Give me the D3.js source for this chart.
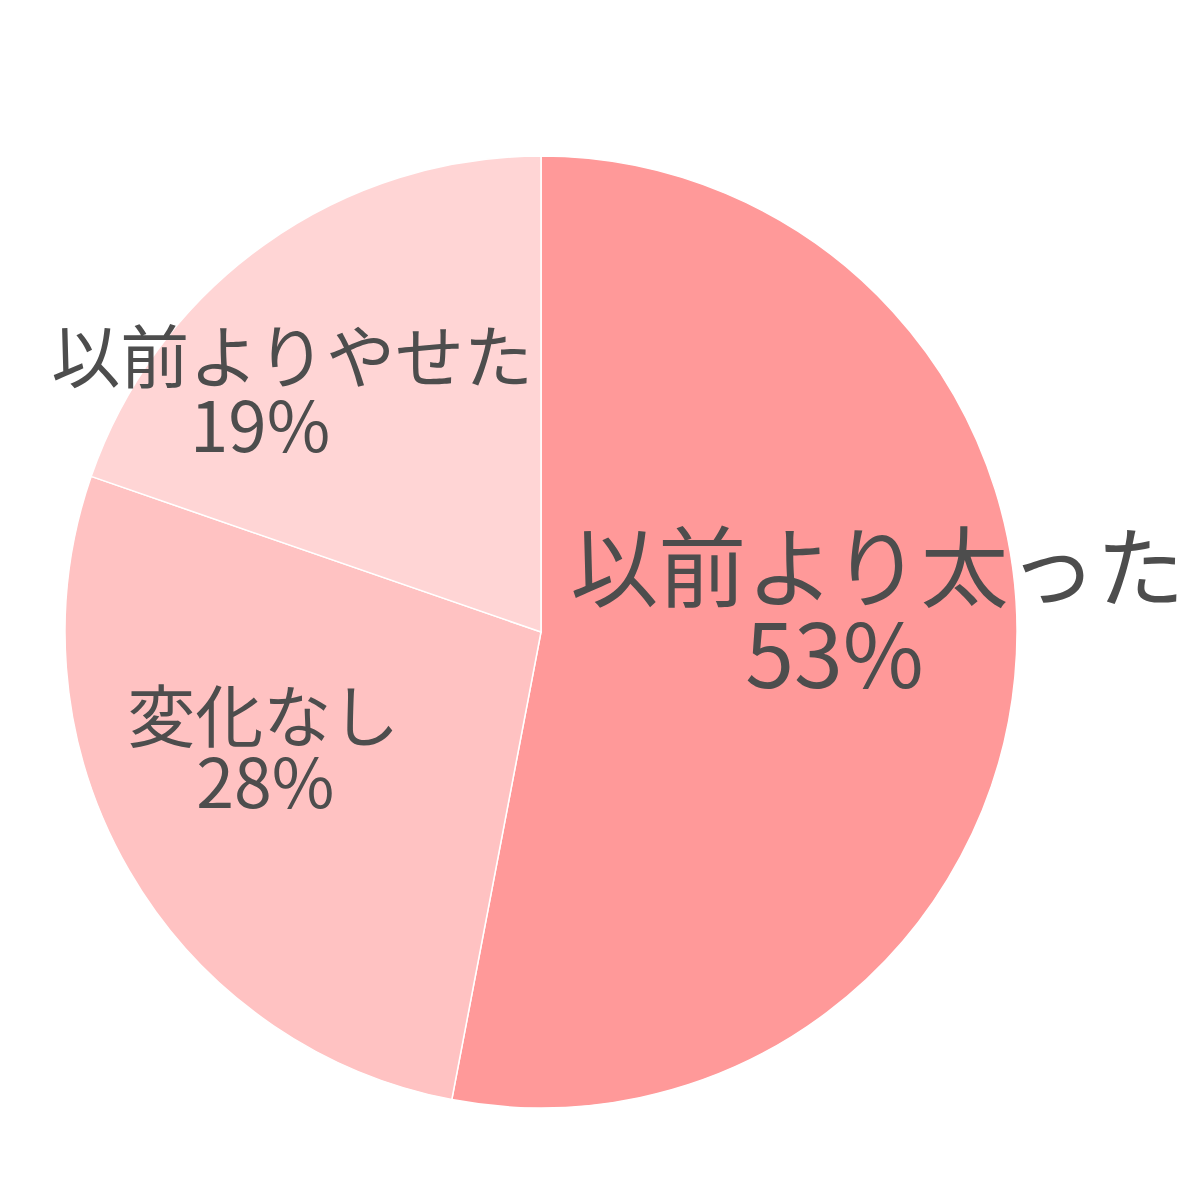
<!DOCTYPE html>
<html><head><meta charset="utf-8">
<script src="https://cdn.jsdelivr.net/npm/d3@7"></script>
<style>body{margin:0;background:#fff}</style>
</head><body>
<svg id="c" width="1200" height="1200"></svg>
<script>
const categories = ["以前より太った", "変化なし", "以前よりやせた"];
const values = [53, 27.3, 19.7];
const percentLabels = ["53%", "28%", "19%"];
const colors = ["#FF9999", "#FFC2C2", "#FFD5D5"];

const svg = d3.select("#c");
const cx = 541, cy = 632, R = 476;
const g = svg.append("g").attr("transform", `translate(${cx},${cy})`);
const pie = d3.pie().sort(null).value(d => d);
const arcs = pie(values);
const arc = d3.arc().innerRadius(0).outerRadius(R);
g.selectAll("path").data(arcs).join("path")
  .attr("d", arc).attr("fill", (d, i) => colors[i])
  .attr("stroke", "#fff").attr("stroke-width", 1.5);

// label layout: anchor radius, font size, per-line offsets [dx, dy] from anchor
const layout = [
  {r: 338, fs: 88, l1: [0, -64], l2: [-43, 24]},
  {r: 300, fs: 68, l1: [-18, -40], l2: [-16, 26]},
  {r: 348, fs: 69, l1: [-47, 34], l2: [-79, 103]}
];
const font = "'Noto Sans CJK JP', sans-serif";
arcs.forEach((a, i) => {
  const L = layout[i];
  const mid = (a.startAngle + a.endAngle) / 2;
  const x = Math.sin(mid) * L.r, y = -Math.cos(mid) * L.r;
  const t = g.append("text").attr("text-anchor", "middle")
    .attr("font-family", font).attr("font-weight", 400)
    .attr("font-size", L.fs).attr("fill", "#4D4D4D");
  t.append("tspan").attr("x", x + L.l1[0]).attr("y", y + L.l1[1]).text(categories[i]);
  t.append("tspan").attr("x", x + L.l2[0]).attr("y", y + L.l2[1]).text(percentLabels[i]);
});
</script>
</body></html>
